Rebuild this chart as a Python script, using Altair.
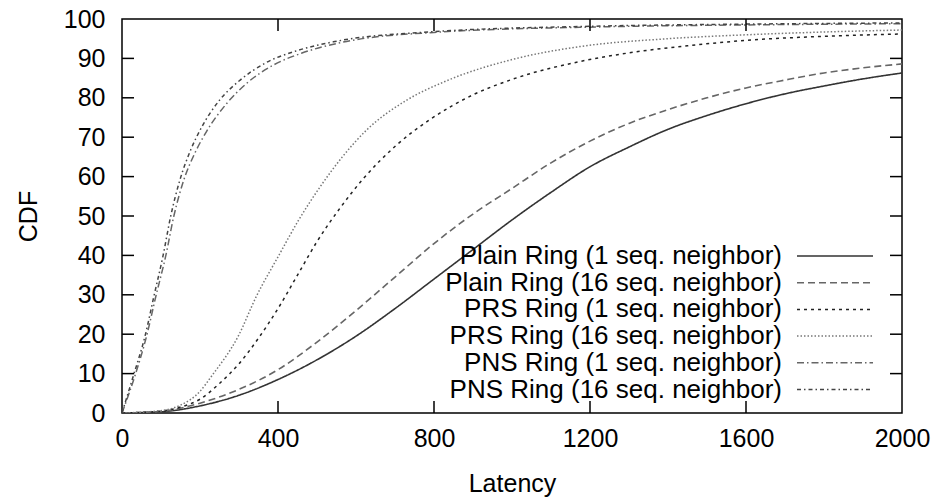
import altair as alt
import pandas as pd

# ---- data ----
series_names = [
    "Plain Ring (1 seq. neighbor)",
    "Plain Ring (16 seq. neighbor)",
    "PRS Ring (1 seq. neighbor)",
    "PRS Ring (16 seq. neighbor)",
    "PNS Ring (1 seq. neighbor)",
    "PNS Ring (16 seq. neighbor)",
]

lat_plain1 = [0, 100, 200, 300, 400, 500, 600, 700, 800, 900, 1000, 1100, 1200, 1300, 1400, 1500, 1600, 1700, 1800, 1900, 2000]
cdf_plain1 = [0, 0.3, 1.8, 4.5, 8.5, 13.5, 19.5, 26.5, 34, 41.5, 49, 56, 62.5, 67.5, 72, 75.5, 78.5, 81, 83, 84.8, 86.3]

lat_plain16 = [0, 100, 200, 300, 400, 500, 600, 700, 800, 900, 1000, 1100, 1200, 1300, 1400, 1500, 1600, 1700, 1800, 1900, 2000]
cdf_plain16 = [0, 0.4, 2.5, 6, 11, 18, 26, 34.5, 43, 50.5, 57, 63.5, 69, 73.5, 77, 80, 82.5, 84.5, 86.3, 87.6, 88.6]

lat_prs1 = [0, 100, 150, 200, 250, 300, 350, 400, 450, 500, 559, 619, 704, 790, 901, 1004, 1174, 1300, 1450, 1603, 1800, 2000]
cdf_prs1 = [0, 0.5, 1.5, 3.5, 7.5, 12.5, 19, 26.5, 35, 43.5, 52, 59.5, 68, 74.5, 80.8, 84.8, 89.2, 91.4, 93.2, 94.6, 95.6, 96.2]

lat_prs16 = [0, 100, 150, 200, 230, 298, 345, 401, 452, 508, 565, 627, 730, 832, 1004, 1174, 1400, 1603, 1800, 2000]
cdf_prs16 = [0, 0.6, 2, 5.5, 9.4, 19.5, 29.7, 39.8, 48.8, 57.4, 65, 71.8, 79.4, 84.3, 89.8, 93, 95, 96, 96.7, 97.2]

lat_pns1 = [0, 33, 63, 87, 112, 133, 158, 187, 217, 268, 320, 388, 460, 560, 800, 1226, 1600, 2000]
cdf_pns1 = [0, 9.4, 19.5, 29.7, 39.8, 50, 59, 66, 71.5, 78.5, 83.7, 88.3, 91.3, 94, 96.6, 98, 98.5, 98.8]

lat_pns16 = [0, 29, 59, 82, 105, 125, 148, 175, 204, 251, 303, 371, 450, 542, 800, 1226, 1600, 2000]
cdf_pns16 = [0, 9.4, 19.5, 29.7, 39.8, 50, 59, 66.5, 72.5, 79.5, 84.5, 89, 92, 94.2, 96.8, 98.2, 98.7, 99]

x_ticks = [0, 400, 800, 1200, 1600, 2000]
y_ticks = [0, 10, 20, 30, 40, 50, 60, 70, 80, 90, 100]

# ---- styles ----
colors = ["#333333", "#666666", "#222222", "#777777", "#666666", "#444444"]
dashes = [[1, 0], [7, 4], [3, 4], [1.5, 2], [7, 3, 1.5, 3], [4, 3, 1.5, 3]]
widths = [1.6, 1.6, 1.5, 1.5, 1.5, 1.5]

W, H = 780, 394
FONT = "Liberation Sans"
FS = 25
LFS = 26

all_lat = [lat_plain1, lat_plain16, lat_prs1, lat_prs16, lat_pns1, lat_pns16]
all_cdf = [cdf_plain1, cdf_plain16, cdf_prs1, cdf_prs16, cdf_pns1, cdf_pns16]

xscale = alt.Scale(domain=[0, 2000], nice=False, zero=False)
yscale = alt.Scale(domain=[0, 100], nice=False)

xaxis = alt.Axis(values=x_ticks, format="d", tickSize=0, ticks=False, domain=False, grid=False,
                 labelFont=FONT, labelFontSize=FS, labelColor="black", labelPadding=13,
                 title="Latency", titleFont=FONT, titleFontSize=FS, titleFontWeight="normal",
                 titleColor="black", titlePadding=20, labelFlush=False)
yaxis = alt.Axis(values=y_ticks, format="d", tickSize=0, ticks=False, domain=False, grid=False,
                 labelFont=FONT, labelFontSize=FS, labelColor="black", labelPadding=17,
                 title="CDF", titleFont=FONT, titleFontSize=FS, titleFontWeight="normal",
                 titleColor="black", titlePadding=22)

layers = []
for i, name in enumerate(series_names):
    df = pd.DataFrame({"Latency": all_lat[i], "CDF": all_cdf[i], "series": name})
    layer = alt.Chart(df).mark_line(
        color=colors[i], strokeDash=dashes[i], strokeWidth=widths[i], interpolate="monotone", clip=True
    ).encode(
        x=alt.X("Latency:Q", scale=xscale, axis=xaxis),
        y=alt.Y("CDF:Q", scale=yscale, axis=yaxis),
    )
    layers.append(layer)

# inward tick marks on all four sides
tick_len = 12
xt = pd.DataFrame({"Latency": x_ticks[1:-1]})
yt = pd.DataFrame({"CDF": y_ticks[1:-1]})
layers.append(alt.Chart(xt).mark_rule(color="black", strokeWidth=1.5).encode(
    x=alt.X("Latency:Q", scale=xscale, axis=xaxis), y=alt.value(H), y2=alt.value(H - tick_len)))
layers.append(alt.Chart(xt).mark_rule(color="black", strokeWidth=1.5).encode(
    x=alt.X("Latency:Q", scale=xscale, axis=xaxis), y=alt.value(0), y2=alt.value(tick_len)))
layers.append(alt.Chart(yt).mark_rule(color="black", strokeWidth=1.5).encode(
    y=alt.Y("CDF:Q", scale=yscale, axis=yaxis), x=alt.value(0), x2=alt.value(tick_len)))
layers.append(alt.Chart(yt).mark_rule(color="black", strokeWidth=1.5).encode(
    y=alt.Y("CDF:Q", scale=yscale, axis=yaxis), x=alt.value(W), x2=alt.value(W - tick_len)))

# manual legend (label on left, sample on right)
leg_text_x = 660
leg_line_x0, leg_line_x1 = 675, 751
leg_y0, leg_dy = 237, 26.7
for i, name in enumerate(series_names):
    yy = leg_y0 + i * leg_dy
    ldf = pd.DataFrame({"label": [name]})
    layers.append(alt.Chart(ldf).mark_text(
        align="right", baseline="middle", font=FONT, fontSize=LFS, color="black"
    ).encode(text="label:N", x=alt.value(leg_text_x), y=alt.value(yy)))
    layers.append(alt.Chart(ldf).mark_rule(
        color=colors[i], strokeDash=dashes[i], strokeWidth=widths[i]
    ).encode(x=alt.value(leg_line_x0), x2=alt.value(leg_line_x1), y=alt.value(yy)))

chart = alt.layer(*layers).properties(
    width=W, height=H,
    autosize=alt.AutoSizeParams(type="none"),
    padding={"left": 122, "top": 19, "right": 45, "bottom": 85},
    background="white",
).configure_view(stroke="black", strokeWidth=1.5)

chart.save("out.html", embed_options={"renderer": "svg", "actions": False})
